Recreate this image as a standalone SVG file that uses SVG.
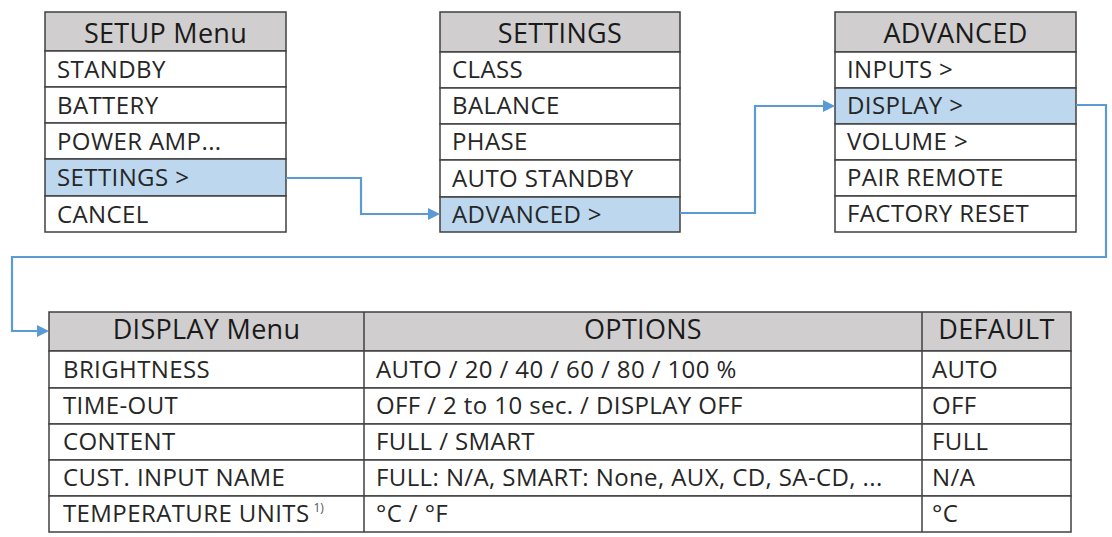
<svg xmlns="http://www.w3.org/2000/svg" width="1112" height="537" viewBox="0 0 1112 537">
<defs>
<style>
.hd{fill:#d0cece;stroke:#404040;stroke-width:1.5}
.row{fill:#ffffff;stroke:#404040;stroke-width:1.5}
.sel{fill:#bdd7ee;stroke:#404040;stroke-width:1.5}
.ln{stroke:#404040;stroke-width:1.5}
.ht{font-family:"Open Sans","Liberation Sans",sans-serif;font-size:27px;letter-spacing:0.3px;fill:#1a1a1a;text-anchor:middle}
.t{font-family:"Open Sans","Liberation Sans",sans-serif;font-size:24px;letter-spacing:0.4px;fill:#262626}
.sup{font-family:"Open Sans","Liberation Sans",sans-serif;font-size:12px;letter-spacing:0;fill:#555}
.con{fill:none;stroke:#5b9bd5;stroke-width:2.2}
</style>
<marker id="arr" markerWidth="12" markerHeight="12" refX="10" refY="6" orient="auto" markerUnits="userSpaceOnUse">
<path d="M0,0 L12,6 L0,12 Z" fill="#5b9bd5"/>
</marker>
</defs>
<rect width="1112" height="537" fill="#ffffff"/>

<g id="setup-menu">
<rect class="hd" x="45" y="12" width="241" height="39"/>
<rect class="row" x="45" y="51" width="241" height="36"/>
<rect class="row" x="45" y="87" width="241" height="36"/>
<rect class="row" x="45" y="123" width="241" height="36"/>
<rect class="sel" x="45" y="159" width="241" height="37"/>
<rect class="row" x="45" y="196" width="241" height="36"/>
<text class="ht" x="165.5" y="43">SETUP Menu</text>
<text class="t" x="57" y="78">STANDBY</text>
<text class="t" x="57" y="114">BATTERY</text>
<text class="t" x="57" y="150">POWER AMP...</text>
<text class="t" x="57" y="186">SETTINGS &gt;</text>
<text class="t" x="57" y="223">CANCEL</text>
</g>

<g id="settings-menu">
<rect class="hd" x="440" y="12" width="240" height="40"/>
<rect class="row" x="440" y="52" width="240" height="36"/>
<rect class="row" x="440" y="88" width="240" height="36"/>
<rect class="row" x="440" y="124" width="240" height="36"/>
<rect class="row" x="440" y="160" width="240" height="37"/>
<rect class="sel" x="440" y="197" width="240" height="35"/>
<text class="ht" x="560" y="43">SETTINGS</text>
<text class="t" x="452" y="78">CLASS</text>
<text class="t" x="452" y="114">BALANCE</text>
<text class="t" x="452" y="150">PHASE</text>
<text class="t" x="452" y="187">AUTO STANDBY</text>
<text class="t" x="452" y="223">ADVANCED &gt;</text>
</g>

<g id="advanced-menu">
<rect class="hd" x="835" y="12" width="241" height="40"/>
<rect class="row" x="835" y="52" width="241" height="36"/>
<rect class="sel" x="835" y="88" width="241" height="36"/>
<rect class="row" x="835" y="124" width="241" height="36"/>
<rect class="row" x="835" y="160" width="241" height="36"/>
<rect class="row" x="835" y="196" width="241" height="36"/>
<text class="ht" x="955.5" y="43">ADVANCED</text>
<text class="t" x="847" y="78">INPUTS &gt;</text>
<text class="t" x="847" y="114">DISPLAY &gt;</text>
<text class="t" x="847" y="150">VOLUME &gt;</text>
<text class="t" x="847" y="186">PAIR REMOTE</text>
<text class="t" x="847" y="222">FACTORY RESET</text>
</g>

<g id="display-table">
<rect class="hd" x="49" y="312" width="1022" height="39"/>
<rect class="row" x="49" y="351" width="1022" height="37"/>
<rect class="row" x="49" y="388" width="1022" height="36"/>
<rect class="row" x="49" y="424" width="1022" height="36"/>
<rect class="row" x="49" y="460" width="1022" height="36"/>
<rect class="row" x="49" y="496" width="1022" height="36"/>
<line class="ln" x1="364" y1="312" x2="364" y2="532"/>
<line class="ln" x1="922" y1="312" x2="922" y2="532"/>
<text class="ht" x="206.5" y="339">DISPLAY Menu</text>
<text class="ht" x="643" y="339">OPTIONS</text>
<text class="ht" x="996.5" y="339">DEFAULT</text>
<text class="t" x="63" y="378">BRIGHTNESS</text>
<text class="t" x="63" y="414">TIME-OUT</text>
<text class="t" x="63" y="450">CONTENT</text>
<text class="t" x="63" y="486">CUST. INPUT NAME</text>
<text class="t" x="63" y="522">TEMPERATURE UNITS<tspan class="sup" dx="4" dy="-10">1)</tspan></text>
<text class="t" x="376" y="378">AUTO / 20 / 40 / 60 / 80 / 100 %</text>
<text class="t" x="376" y="414">OFF / 2 to 10 sec. / DISPLAY OFF</text>
<text class="t" x="376" y="450">FULL / SMART</text>
<text class="t" x="376" y="486">FULL: N/A, SMART: None, AUX, CD, SA-CD, ...</text>
<text class="t" x="376" y="522">°C / °F</text>
<text class="t" x="932" y="378">AUTO</text>
<text class="t" x="932" y="414">OFF</text>
<text class="t" x="932" y="450">FULL</text>
<text class="t" x="932" y="486">N/A</text>
<text class="t" x="932" y="522">°C</text>
</g>

<g id="connectors">
<path class="con" d="M286,178 H361 V214 H438" marker-end="url(#arr)"/>
<path class="con" d="M680,213 H755 V106 H833" marker-end="url(#arr)"/>
<path class="con" d="M1076,105 H1106 V257 H12 V331 H47" marker-end="url(#arr)"/>
</g>
</svg>
